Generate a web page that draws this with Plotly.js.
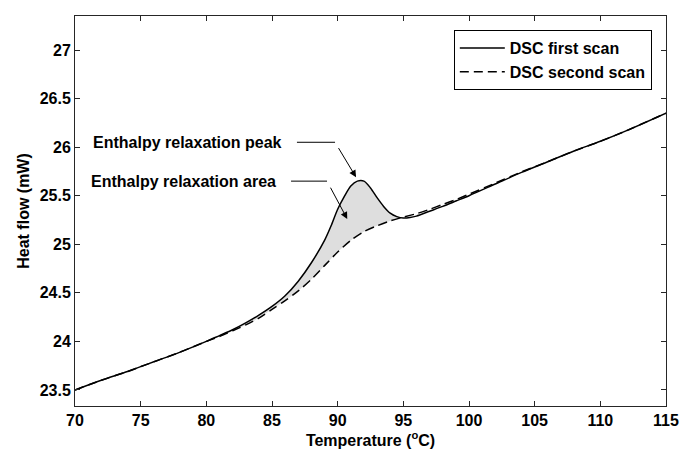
<!DOCTYPE html>
<html>
<head>
<meta charset="utf-8">
<script src="https://cdn.plot.ly/plotly-3.0.1.min.js"></script>
<style>html,body{margin:0;padding:0;background:#fff;}#plot{width:681px;height:462px;}</style>
</head>
<body>
<div id="plot"></div>
<script>
// First scan (solid)
var tempFirst = [70,72,74,75,76,78,80,81,82,83,84,85,86,87,88,89,89.5,90,90.5,91,91.5,92,92.5,93,93.5,94,94.5,95,95.5,96,97,98,99,100,102,104,106,108,110,112,115];
var heatFirst = [23.50,23.60,23.69,23.74,23.79,23.89,24.00,24.06,24.12,24.19,24.27,24.36,24.47,24.62,24.81,25.04,25.19,25.36,25.49,25.60,25.65,25.65,25.58,25.48,25.39,25.32,25.285,25.27,25.275,25.29,25.34,25.39,25.445,25.50,25.62,25.74,25.85,25.96,26.06,26.17,26.35];
// Second scan (dashed)
var tempSecond = [70,72,74,75,76,78,80,81,82,83,84,85,86,87,88,89,90,91,92,93,94,95,96,97,98,99,100,102,104,106,108,110,112,115];
var heatSecond = [23.50,23.60,23.69,23.74,23.79,23.89,24.00,24.05,24.11,24.17,24.24,24.33,24.42,24.52,24.64,24.78,24.92,25.04,25.13,25.19,25.24,25.28,25.315,25.36,25.41,25.46,25.515,25.63,25.745,25.85,25.96,26.06,26.17,26.35];
// Fill area: both scans on a common grid within the relaxation region
var tempFill = [82,83,84,85,86,87,88,89,90,91,92,93,94,95];
var fillUpper = [24.12,24.19,24.27,24.36,24.47,24.62,24.81,25.04,25.36,25.60,25.65,25.48,25.32,25.27];
var fillLower = [24.11,24.17,24.24,24.33,24.42,24.52,24.64,24.78,24.92,25.04,25.13,25.19,25.24,25.27];

var seriesNames = ['DSC first scan','DSC second scan'];
var xTicks = [70,75,80,85,90,95,100,105,110,115];
var yTicks = [23.5,24,24.5,25,25.5,26,26.5,27];
var yTickText = ['23.5','24','24.5','25','25.5','26','26.5','27'];
var annoText = ['Enthalpy relaxation peak','Enthalpy relaxation area'];

var font = {family:'Liberation Sans, Arial, sans-serif', size:16, color:'#000', weight:'bold'};

var traces = [
  {x:tempFill, y:fillLower, mode:'lines', line:{width:0, color:'rgba(0,0,0,0)', shape:'spline', smoothing:0.8}, showlegend:false, hoverinfo:'skip'},
  {x:tempFill, y:fillUpper, mode:'lines', fill:'tonexty', fillcolor:'#dedede', line:{width:0, color:'rgba(0,0,0,0)', shape:'spline', smoothing:0.8}, showlegend:false, hoverinfo:'skip'},
  {x:tempFirst, y:heatFirst, mode:'lines', name:seriesNames[0], line:{color:'#000', width:1.5, shape:'spline', smoothing:0.8}},
  {x:tempSecond, y:heatSecond, mode:'lines', name:seriesNames[1], line:{color:'#000', width:1.5, dash:'9px,5px', shape:'spline', smoothing:0.8}}
];

var axisCommon = {showline:true, linecolor:'#262626', linewidth:1, mirror:'ticks', ticks:'inside', ticklen:5, tickcolor:'#262626', showgrid:false, zeroline:false, tickfont:font};

var layout = {
  width:681, height:462,
  margin:{l:75, r:15, t:16, b:56},
  paper_bgcolor:'#fff', plot_bgcolor:'#fff',
  font:font,
  xaxis:Object.assign({}, axisCommon, {range:[70,115], tickvals:xTicks, ticktext:xTicks.map(String),
    title:{text:'Temperature (<sup>o</sup>C)', font:font, standoff:2}}),
  yaxis:Object.assign({}, axisCommon, {range:[23.335,27.35], tickvals:yTicks, ticktext:yTickText,
    title:{text:'Heat flow (mW)', font:font, standoff:6}}),
  legend:{x:0.976, y:0.964, xanchor:'right', yanchor:'top', bordercolor:'#000', borderwidth:1, bgcolor:'#fff', font:font, traceorder:'normal', tracegroupgap:0, itemwidth:45},
  showlegend:true,
  shapes:[
    {type:'line', xref:'x', yref:'y', x0:86.9, y0:26.05, x1:89.8, y1:26.05, line:{color:'#000', width:1}},
    {type:'line', xref:'x', yref:'y', x0:86.45, y0:25.65, x1:89.19, y1:25.65, line:{color:'#000', width:1}}
  ],
  annotations:[
    {x:91.4, y:25.69, ax:89.8, ay:26.05, axref:'x', ayref:'y', xref:'x', yref:'y', text:' ', showarrow:true, arrowhead:2, arrowsize:1.4, arrowwidth:1, arrowcolor:'#000'},
    {x:90.73, y:25.26, ax:89.19, ay:25.65, axref:'x', ayref:'y', xref:'x', yref:'y', text:' ', showarrow:true, arrowhead:2, arrowsize:1.4, arrowwidth:1, arrowcolor:'#000'},
    {x:85.95, y:26.05, xref:'x', yref:'y', text:annoText[0], showarrow:false, xanchor:'right', yanchor:'middle', font:font},
    {x:85.45, y:25.65, xref:'x', yref:'y', text:annoText[1], showarrow:false, xanchor:'right', yanchor:'middle', font:font}
  ]
};

Plotly.newPlot('plot', traces, layout, {displayModeBar:false, staticPlot:true});
</script>
</body>
</html>
